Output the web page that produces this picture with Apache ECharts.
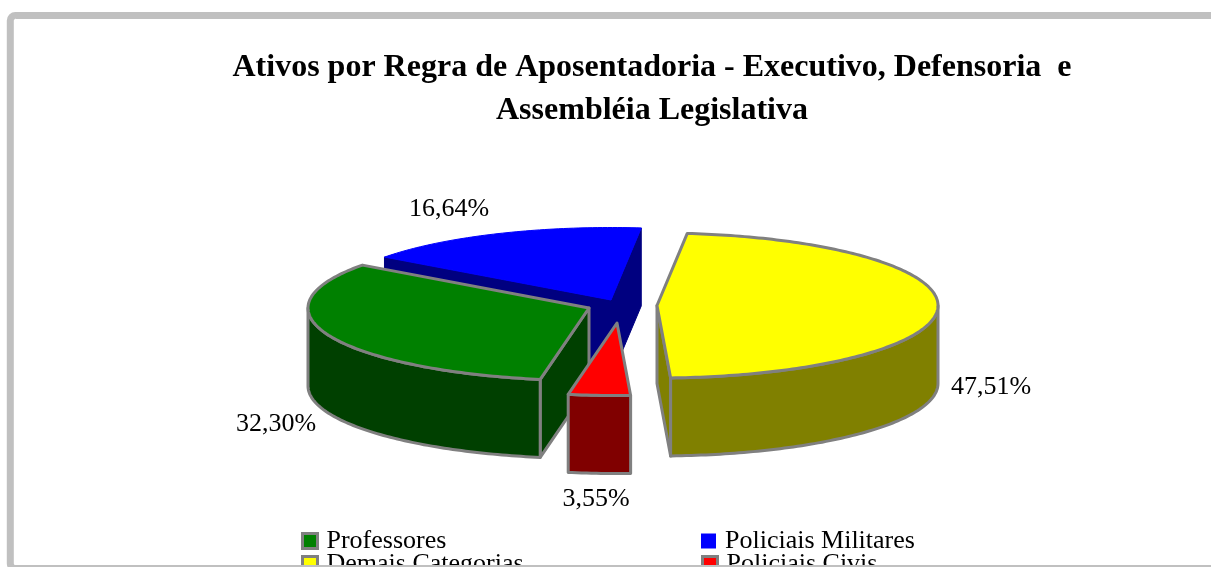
<!DOCTYPE html>
<html><head><meta charset="utf-8">
<style>html,body{margin:0;padding:0;background:#fff;overflow:hidden}#c{width:1211px;height:567px}</style>
<script src="https://cdn.jsdelivr.net/npm/echarts@6/dist/echarts.min.js"></script>
</head><body><div id="c"></div>
<script>
// data
const categories = ['Professores', 'Policiais Militares', 'Demais Categorias', 'Policiais Civis'];
const percentages = [32.30, 16.64, 47.51, 3.55];
const titleText = 'Ativos por Regra de Aposentadoria - Executivo, Defensoria  e\nAssembléia Legislativa';

// styles and layout
const topColors = ['#008000', '#0000ff', '#ffff00', '#ff0000'];
const sideColors = ['#004000', '#000080', '#808000', '#800000'];
const edgeColors = ['#808080', null, '#808080', '#808080'];
const apexes = [[589, 308], [611, 300], [657, 305.5], [617, 323]];
const labelAt = [[276, 424], [449, 209], [991, 387], [596, 499]];
const legendAt = [[301, 528], [701, 528], [301, 551], [701, 551]];
const drawOrder = [1, 0, 2, 3];
const RX = 281, RY = 72.5, DEPTH = 78, FIRST_ANGLE = 190;
const FONT = '"Liberation Serif", "Times New Roman", serif';

const total = percentages.reduce((a, b) => a + b, 0);
function sliceStart(idx) {
  let s = 0;
  for (let i = 0; i < idx; i++) s += percentages[i];
  return (FIRST_ANGLE + s / total * 360) % 360;
}
function rim(apex, deg) {
  const r = deg * Math.PI / 180;
  return [apex[0] + RX * Math.sin(r), apex[1] - RY * Math.cos(r)];
}
function down(p) { return [p[0], p[1] + DEPTH]; }

function makeRender(idx) {
  return function (params, api) {
    const v = api.value(0);
    const a0 = sliceStart(idx), a1 = a0 + v / total * 360;
    const apex = apexes[idx];
    const edge = edgeColors[idx];
    const sideStroke = edge || sideColors[idx];
    const topStroke = edge || topColors[idx];
    const lw = edge ? 3 : 1;
    const children = [];
    const sideStyle = { fill: sideColors[idx], stroke: sideStroke, lineWidth: lw, lineJoin: 'round' };
    const topStyle = { fill: topColors[idx], stroke: topStroke, lineWidth: lw, lineJoin: 'round' };
    const add = (pts, style) => children.push({ type: 'polygon', shape: { points: pts }, style: style });

    // radial faces: visible when the outward normal looks toward the viewer
    const pStart = rim(apex, a0), pEnd = rim(apex, a1);
    const nStart = -(pStart[0] - apex[0]);
    const nEnd = (pEnd[0] - apex[0]);
    if (nStart > 0) add([apex, pStart, down(pStart), down(apex)], sideStyle);
    if (nEnd > 0) add([apex, pEnd, down(pEnd), down(apex)], sideStyle);

    // outer wall: only the part of the rim facing the viewer
    const f0 = Math.max(a0, 90), f1 = Math.min(a1, 270);
    if (f1 > f0) {
      const upper = [], lower = [];
      for (let d = f0; d < f1; d += 1) upper.push(rim(apex, d));
      upper.push(rim(apex, f1));
      for (let i = upper.length - 1; i >= 0; i--) lower.push(down(upper[i]));
      add(upper.concat(lower), sideStyle);
    }

    // top face
    const pts = [apex];
    for (let d = a0; d < a1; d += 1) pts.push(rim(apex, d));
    pts.push(pEnd);
    add(pts, topStyle);

    // value label
    children.push({
      type: 'text',
      style: {
        text: v.toFixed(2).replace('.', ',') + '%',
        x: labelAt[idx][0], y: labelAt[idx][1],
        align: 'center', verticalAlign: 'middle',
        font: '26px ' + FONT, fill: '#000'
      }
    });
    return { type: 'group', children: children };
  };
}

const series = drawOrder.map(i => ({
  type: 'custom',
  name: categories[i],
  coordinateSystem: 'none',
  silent: true,
  itemStyle: { color: topColors[i] },
  data: [[percentages[i]]],
  renderItem: makeRender(i)
}));

const legend = categories.map((name, i) => ({
  left: legendAt[i][0], top: legendAt[i][1],
  selectedMode: false,
  padding: 0,
  icon: 'rect',
  itemWidth: 15, itemHeight: 15,
  data: [{ name: name, icon: 'rect', itemStyle: { color: topColors[i], borderColor: edgeColors[i] || topColors[i], borderWidth: edgeColors[i] ? 3 : 0 } }],
  textStyle: { fontFamily: FONT, fontSize: 26, color: '#000', padding: [0, 0, 0, 4] }
}));

const chart = echarts.init(document.getElementById('c'), null, { renderer: 'canvas' });
chart.setOption({
  animation: false,
  backgroundColor: '#fff',
  title: {
    text: titleText, left: 647, top: 41, textAlign: 'center',
    textStyle: { fontFamily: FONT, fontWeight: 'bold', fontSize: 32, lineHeight: 43, color: '#000' }
  },
  legend: legend,
  series: series,
  graphic: [{
    type: 'rect', z: 100, silent: true,
    shape: { x: 10.3, y: 15.5, width: 1400, height: 553, r: 5 },
    style: { fill: 'none', stroke: '#c0c0c0', lineWidth: 7 }
  }]
});
</script></body></html>
